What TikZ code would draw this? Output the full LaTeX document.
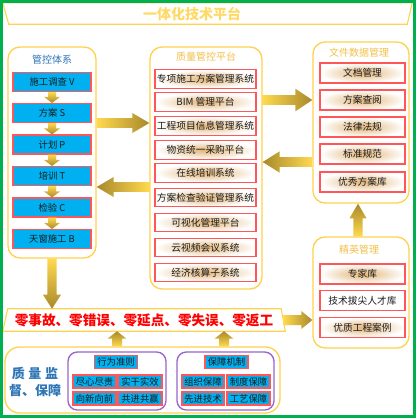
\documentclass[tikz,border=0pt]{standalone}
\usepackage{fontspec}
\setmainfont{Noto Sans CJK SC}
\usetikzlibrary{calc}
\definecolor{gold}{HTML}{FFD24D}
\definecolor{goldtxt}{HTML}{F2C04A}
\definecolor{ttlgold}{HTML}{FFD966}
\definecolor{bluebox}{HTML}{00B0F0}
\definecolor{redln}{HTML}{FF5757}
\definecolor{bluetxt}{HTML}{2E75B6}
\definecolor{purp}{HTML}{9966CC}
\definecolor{grn}{HTML}{00B050}
\definecolor{alight}{HTML}{FFD94F}
\definecolor{adark}{HTML}{A8892B}
\definecolor{tanc}{HTML}{E3B477}
\definecolor{txtc}{HTML}{1A1A1A}
\newcommand\garrow[6]{%
  \coordinate (gah) at ($(#2)!#5!(#1)$);
  \path[#6] ($(#1)!#3!90:(#2)$) -- ($(gah)!#3!90:(#2)$) -- ($(gah)!#4!90:(#2)$) -- (#2)
     -- ($(gah)!#4!-90:(#2)$) -- ($(gah)!#3!-90:(#2)$) -- ($(#1)!#3!-90:(#2)$) -- cycle;}
\tikzset{
  panel/.style={draw=gold, line width=1pt, rounded corners=9pt, fill=white, inner sep=0pt},
  ptitle/.style={font=\fontsize{7.5}{9}\selectfont, text=goldtxt, inner sep=0pt},
  bbox/.style={draw=redln, fill=bluebox, line width=0.8pt, inner sep=0pt, text=txtc,
    minimum width=58.5pt, minimum height=14.25pt, font=\fontsize{7}{8}\selectfont},
  tbox/.style={draw=redln, line width=0.8pt, inner color=tanc, outer color=white, inner sep=0pt, text=txtc,
    font=\fontsize{7.3}{8}\selectfont},
  mbox/.style={tbox, minimum width=75.75pt, minimum height=13.9pt},
  rbox/.style={tbox, minimum width=63.75pt, minimum height=15pt},
  sbox/.style={draw=redln, fill=bluebox, line width=0.8pt, inner sep=0pt, text=txtc,
    minimum width=32.25pt, minimum height=9.75pt, font=\fontsize{7}{8}\selectfont},
  grp/.style={draw=purp, line width=1pt, rounded corners=7pt, fill=white, inner sep=0pt,
    minimum width=73.5pt, minimum height=43.5pt},
  hshade/.style={left color=alight, right color=adark},
  hshadel/.style={left color=adark, right color=alight},
  vshade/.style={top color=alight, bottom color=adark},
  vshadeu/.style={top color=adark, bottom color=alight},
}
\begin{document}
\begin{tikzpicture}[x=0.75pt,y=-0.75pt]
\useasboundingbox (0,0) rectangle (416,418);
\fill[white] (0,0) rectangle (416,418);
% title
\node[inner sep=0pt, minimum width=306.75pt, minimum height=15.75pt] (ttl) at (207.5,13.5) {};
\draw[gold, line width=0.8pt] (ttl.north west) -- (ttl.north east) -- ($(ttl.south east)+(-5,0)$) -- ($(ttl.south west)+(6,0)$) -- cycle;
\node[font=\bfseries\fontsize{10.5}{12}\selectfont, text=ttlgold, inner sep=0pt] (ttltext) at (192,14) {一体化技术平台};
% panels
\node[panel, minimum width=66pt, minimum height=158.25pt] (ctrl) at (52,152.5) {};
\node[panel, minimum width=84pt, minimum height=181.5pt] (qc) at (206,168) {};
\node[panel, minimum width=72pt, minimum height=120.75pt] (doc) at (361,122.5) {};
\node[panel, minimum width=72pt, minimum height=83.25pt] (elite) at (361,292.5) {};
\node[panel, rounded corners=11pt, minimum width=206.25pt, minimum height=49.5pt] (bot) at (142.5,380) {};
% banner
\node[inner sep=0pt, minimum width=211.5pt, minimum height=16.5pt] (ban) at (144,320) {};
\draw[gold, line width=0.8pt, fill=white] ($(ban.north west)+(5,0)$) -- ($(ban.north east)+(-4,0)$) -- (ban.south east) -- (ban.south west) -- cycle;
\node[font=\bfseries\fontsize{10.2}{12}\selectfont, text=red, inner sep=0pt] (bantext) at (144,320) {零事故、零错误、零延点、零失误、零返工};
% panel titles
\node[ptitle, text=bluetxt] (ctrlt) at (52,60) {管控体系};
\node[ptitle] (qct) at (206,57) {质量管控平台};
\node[ptitle] (doct) at (359,53) {文件数据管理};
\node[ptitle] (elitet) at (359,250) {精英管理};
% left boxes
\node[bbox] (v) at (52,82) {施工调查 V};
\node[bbox] (s) at (52,113) {方案 S};
\node[bbox] (p) at (52,144.5) {计划 P};
\node[bbox] (t) at (52,176) {培训 T};
\node[bbox] (c) at (52,207.5) {检验 C};
\node[bbox] (b) at (52,239) {天窗施工 B};
% middle boxes
\node[mbox] (m1) at (205.5,79) {专项施工方案管理系统};
\node[mbox] (m2) at (205.5,102) {BIM 管理平台};
\node[mbox] (m3) at (205.5,126) {工程项目信息管理系统};
\node[mbox] (m4) at (205.5,150) {物资统一采购平台};
\node[mbox] (m5) at (205.5,173) {在线培训系统};
\node[mbox] (m6) at (205.5,197.5) {方案检查验证管理系统};
\node[mbox] (m7) at (205.5,222.5) {可视化管理平台};
\node[mbox] (m8) at (205.5,247.5) {云视频会议系统};
\node[mbox] (m9) at (205.5,272.5) {经济核算子系统};
% right boxes
\node[rbox] (r1) at (362.5,73) {文档管理};
\node[rbox] (r2) at (362.5,100) {方案查阅};
\node[rbox] (r3) at (362.5,127) {法律法规};
\node[rbox] (r4) at (362.5,154) {标准规范};
\node[rbox] (r5) at (362.5,182) {优秀方案库};
\node[rbox] (e1) at (362.5,274) {专家库};
\node[rbox, inner color=white] (e2) at (362.5,300.5) {技术拔尖人才库};
\node[rbox] (e3) at (362.5,327.5) {优质工程案例};
% bottom
\node[font=\bfseries\fontsize{9.75}{12.75}\selectfont, text=bluetxt, align=center, inner sep=0pt] (lab) at (35,381.5) {质\hspace{2.8pt}量\hspace{2.8pt}监\\督、保障};
\node[grp] (g1) at (117,381) {};
\node[grp, minimum width=72.75pt] (g2) at (225.5,381) {};
\node[sbox, minimum width=32pt, minimum height=9.4pt] (h1) at (116,362) {行为准则};
\node[sbox] (a1) at (94.5,381.5) {尽心尽责};
\node[sbox, minimum width=33pt] (a2) at (140,381.5) {实干实效};
\node[sbox] (a3) at (94.5,398.5) {向新向前};
\node[sbox, minimum width=33pt] (a4) at (140,398.5) {共进共赢};
\node[sbox, minimum width=32.25pt, minimum height=9.4pt] (h2) at (226.5,362) {保障机制};
\node[sbox, minimum width=31.5pt] (b1) at (203,381.5) {组织保障};
\node[sbox] (b2) at (248.5,381.5) {制度保障};
\node[sbox, minimum width=31.5pt] (b3) at (203,398.5) {先进技术};
\node[sbox] (b4) at (248.5,398.5) {工艺保障};
% big arrows
\coordinate (x1s) at (ctrl.east |- 0,123); \coordinate (x1e) at (qc.west |- 0,123);
\garrow{x1s}{x1e}{3.6pt}{7.5pt}{12.75pt}{hshade}
\coordinate (x2s) at (qc.west |- 0,187); \coordinate (x2e) at (ctrl.east |- 0,187);
\garrow{x2s}{x2e}{3.6pt}{7.5pt}{12.75pt}{hshadel}
\coordinate (x3s) at (qc.east |- 0,100); \coordinate (x3e) at (doc.west |- 0,100);
\garrow{x3s}{x3e}{3.6pt}{8.5pt}{12.75pt}{hshade}
\coordinate (x4s) at (doc.west |- 0,162); \coordinate (x4e) at (qc.east |- 0,162);
\garrow{x4s}{x4e}{3.6pt}{8pt}{12.75pt}{hshadel}
\coordinate (x5s) at ($(elite.north)+(-3,0)$); \coordinate (x5e) at (x5s |- doc.south);
\garrow{x5s}{x5e}{3.4pt}{6.4pt}{11pt}{vshadeu}
\coordinate (x6e) at (ctrl.south |- ban.north);
\garrow{ctrl.south}{x6e}{3.4pt}{6.75pt}{10.5pt}{vshade}
\coordinate (x7s) at ($(ban.east)+(-2,0)$); \coordinate (x7e) at (elite.west |- ban.east);
\garrow{x7s}{x7e}{3.75pt}{6.75pt}{8.25pt}{hshade}
\coordinate (x8s) at (g1 |- bot.north); \coordinate (x8e) at (g1 |- ban.south);
\garrow{x8s}{x8e}{3.75pt}{7pt}{5.5pt}{vshadeu}
\coordinate (x9s) at ($(g2 |- bot.north)+(-1.5,0)$); \coordinate (x9e) at (x9s |- ban.south);
\garrow{x9s}{x9e}{3.75pt}{7pt}{5.5pt}{vshadeu}
% small arrows
\garrow{v.south}{s.north}{3pt}{6pt}{4.5pt}{vshade}
\garrow{s.south}{p.north}{3pt}{6pt}{4.5pt}{vshade}
\garrow{p.south}{t.north}{3pt}{6pt}{4.5pt}{vshade}
\garrow{t.south}{c.north}{3pt}{6pt}{4.5pt}{vshade}
\garrow{c.south}{b.north}{3pt}{6pt}{4.5pt}{vshade}
% green frame
\draw[grn, line width=2.25pt] (1.5,1.5) rectangle (414.5,416.5);
\end{tikzpicture}
\end{document}
